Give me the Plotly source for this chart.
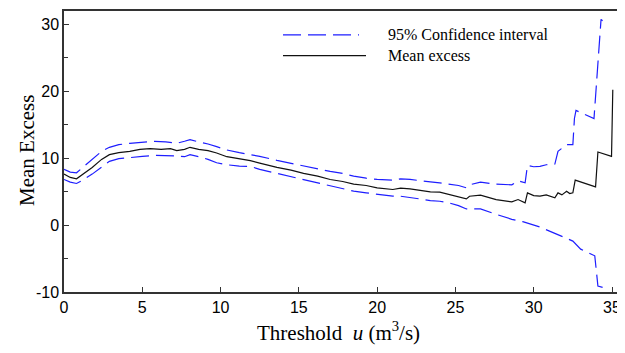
import plotly.graph_objects as go

# ---- data ----
u_mean = [0, 0.4, 0.8, 1.2, 1.8, 2.4, 2.9, 3.5, 4.2, 4.85, 5.5, 6.2, 6.8, 7.2, 7.7, 8.05,
          8.6, 9.2, 9.75, 10.4, 11.2, 11.9, 12.5, 13.6, 14.5, 15.3, 16.2, 17.0, 17.8, 18.5,
          19.3, 20.0, 21.0, 21.5, 22.1, 22.7, 23.4, 24.0, 24.6, 25.2, 25.7, 25.9, 26.6, 27.6,
          28.6, 29.0, 29.2, 29.45, 29.6, 30.0, 30.4, 30.8, 31.35, 31.55, 31.8, 32.1, 32.3,
          32.5, 32.65, 33.3, 33.95, 34.1, 34.97, 35.05]
mean_excess = [7.6, 7.1, 6.9, 7.6, 8.6, 9.8, 10.5, 10.8, 11.0, 11.3, 11.4, 11.3, 11.4, 11.1,
               11.3, 11.6, 11.3, 11.1, 10.75, 10.2, 9.9, 9.6, 9.25, 8.6, 8.2, 7.7, 7.3, 6.8,
               6.5, 6.1, 5.9, 5.55, 5.3, 5.5, 5.4, 5.2, 4.95, 4.9, 4.55, 4.3, 3.9, 4.3, 4.45,
               3.8, 3.45, 3.8, 3.6, 3.3, 4.8, 4.4, 4.3, 4.5, 4.05, 4.8, 4.5, 5.05, 4.7, 4.8,
               6.7, 6.2, 5.7, 10.9, 10.25, 20.2]

u_upper = [0, 0.4, 0.8, 1.2, 1.8, 2.4, 2.9, 3.5, 4.2, 5.0, 5.8, 6.5, 7.2, 7.7, 8.05, 8.6,
           9.2, 9.75, 10.4, 11.2, 11.9, 12.5, 13.6, 14.5, 15.3, 16.2, 17.0, 17.8, 18.5, 19.3,
           20.0, 21.0, 21.5, 22.1, 22.7, 23.4, 24.0, 24.6, 25.2, 25.7, 25.9, 26.6, 27.6, 28.6,
           29.0, 29.45, 29.6, 30.0, 30.4, 30.8, 31.35, 31.55, 32.1, 32.5, 32.6, 32.7, 33.85,
           34.3, 34.4]
ci_upper = [8.3, 7.9, 7.8, 8.6, 9.8, 11.0, 11.6, 12.0, 12.2, 12.4, 12.5, 12.4, 12.2, 12.5,
            12.75, 12.4, 12.1, 11.7, 11.2, 10.8, 10.5, 10.25, 9.65, 9.2, 8.75, 8.4, 8.0, 7.7,
            7.3, 7.0, 6.8, 6.7, 6.9, 6.8, 6.6, 6.45, 6.3, 6.15, 5.9, 5.55, 6.0, 6.4, 6.1, 6.0,
            6.6, 6.3, 8.9, 8.7, 8.75, 9.0, 9.1, 11.0, 12.0, 12.0, 15.9, 17.1, 15.9, 30.7, 30.5]

u_lower = [0, 0.4, 0.8, 1.2, 1.8, 2.4, 2.9, 3.5, 4.2, 5.0, 5.8, 6.5, 7.2, 7.7, 8.05, 8.6,
           9.2, 9.75, 10.4, 11.2, 11.9, 12.5, 13.6, 14.5, 15.3, 16.2, 17.0, 17.8, 18.5, 19.3,
           20.0, 21.0, 21.5, 22.1, 22.7, 23.4, 24.0, 24.6, 25.2, 25.7, 26.6, 27.6, 28.6, 29.3,
           30.4, 31.5, 32.5, 33.0, 33.9, 34.1, 34.4]
ci_lower = [6.8, 6.4, 6.2, 6.7, 7.6, 8.7, 9.5, 9.9, 10.1, 10.25, 10.4, 10.4, 10.3, 10.2,
            10.5, 10.2, 9.8, 9.3, 9.0, 8.8, 8.75, 8.3, 7.7, 7.2, 6.7, 6.3, 5.8, 5.4, 5.05,
            4.8, 4.55, 4.3, 4.3, 4.05, 3.9, 3.65, 3.55, 3.3, 2.9, 2.4, 2.4, 1.6, 0.85, 0.5,
            -0.3, -1.4, -2.4, -3.6, -4.6, -9.1, -9.3]

x_ticks = [0, 5, 10, 15, 20, 25, 30, 35]
y_ticks = [-10, 0, 10, 20, 30]

legend_labels = ["95% Confidence interval", "Mean excess"]

BLUE = "#1e1eff"
DASH = "18px,7px"
SERIF = "Liberation Serif, Times New Roman, serif"
SANS = "Liberation Sans, Arial, sans-serif"

fig = go.Figure()
fig.add_trace(go.Scatter(x=u_upper, y=ci_upper, mode="lines",
                         line=dict(color=BLUE, width=1.2, dash=DASH), showlegend=False))
fig.add_trace(go.Scatter(x=u_lower, y=ci_lower, mode="lines",
                         line=dict(color=BLUE, width=1.2, dash=DASH), showlegend=False))
fig.add_trace(go.Scatter(x=u_mean, y=mean_excess, mode="lines",
                         line=dict(color="#111111", width=1.2), showlegend=False))

# The page body has an 8px margin, so the figure is laid out in figure coords
# (window coords minus 8px) and runs 8px past the right/bottom window edge.
OFF = 8
W, H = 625, 353
# plot area in window pixels: x 64..625, y 9..292
L = 64 - OFF
T = 9 - OFF
R = W - (625 - OFF)
B = H - (292 - OFF)
pw, ph = W - L - R, H - T - B

def px2paper(x, y):
    # x, y in window pixels
    fx, fy = x - OFF, y - OFF
    return (fx - L) / pw, (H - B - fy) / ph

# manual legend (long line samples like the original)
x0, _ = px2paper(283, 0)
x1, _ = px2paper(359, 0)
x1b, _ = px2paper(366, 0)
_, y1 = px2paper(0, 33)
_, y2 = px2paper(0, 54)
xt, _ = px2paper(386, 0)
fig.add_shape(type="line", xref="paper", yref="paper", x0=x0, x1=x1, y0=y1, y1=y1,
              line=dict(color=BLUE, width=1.2, dash=DASH))
fig.add_shape(type="line", xref="paper", yref="paper", x0=x0, x1=x1b, y0=y2, y1=y2,
              line=dict(color="#111111", width=1.2))
for lbl, yy in zip(legend_labels, [y1, y2]):
    fig.add_annotation(x=xt, y=yy, xref="paper", yref="paper", text=lbl, showarrow=False,
                       xanchor="left", yanchor="middle",
                       font=dict(family=SERIF, size=16, color="black"))

# axis titles
fig.add_annotation(x=px2paper(338, 0)[0], y=px2paper(0, 332)[1], xref="paper", yref="paper",
                   text="Threshold\u00a0\u00a0<i>u</i> (m<sup>3</sup>/s)", showarrow=False,
                   xanchor="center", yanchor="middle",
                   font=dict(family=SERIF, size=21, color="black"))
fig.add_annotation(x=px2paper(27, 0)[0], y=px2paper(0, 150)[1], xref="paper", yref="paper",
                   text="Mean Excess", showarrow=False, textangle=-90,
                   xanchor="center", yanchor="middle",
                   font=dict(family=SERIF, size=21, color="black"))

axis_common = dict(showgrid=False, zeroline=False, showline=True, linecolor="#333333",
                   linewidth=1.5, ticks="inside", tickcolor="#333333", tickwidth=1.2,
                   ticklen=5, tickfont=dict(family=SANS, size=16, color="black"))

fig.update_xaxes(range=[0, 35.83], tickvals=x_ticks, ticktext=[str(v) for v in x_ticks],
                 mirror=True, **axis_common)
fig.update_yaxes(range=[-10, 31.95], tickvals=y_ticks, ticktext=[str(v) for v in y_ticks],
                 mirror=False,
                 minor=dict(ticks="inside", ticklen=4, tickcolor="#333333", dtick=5,
                            tick0=0, showgrid=False),
                 **axis_common)

fig.update_layout(width=W, height=H, margin=dict(l=L, r=R, t=T, b=B),
                  plot_bgcolor="white", paper_bgcolor="white", showlegend=False)

fig.write_html("out.html")
